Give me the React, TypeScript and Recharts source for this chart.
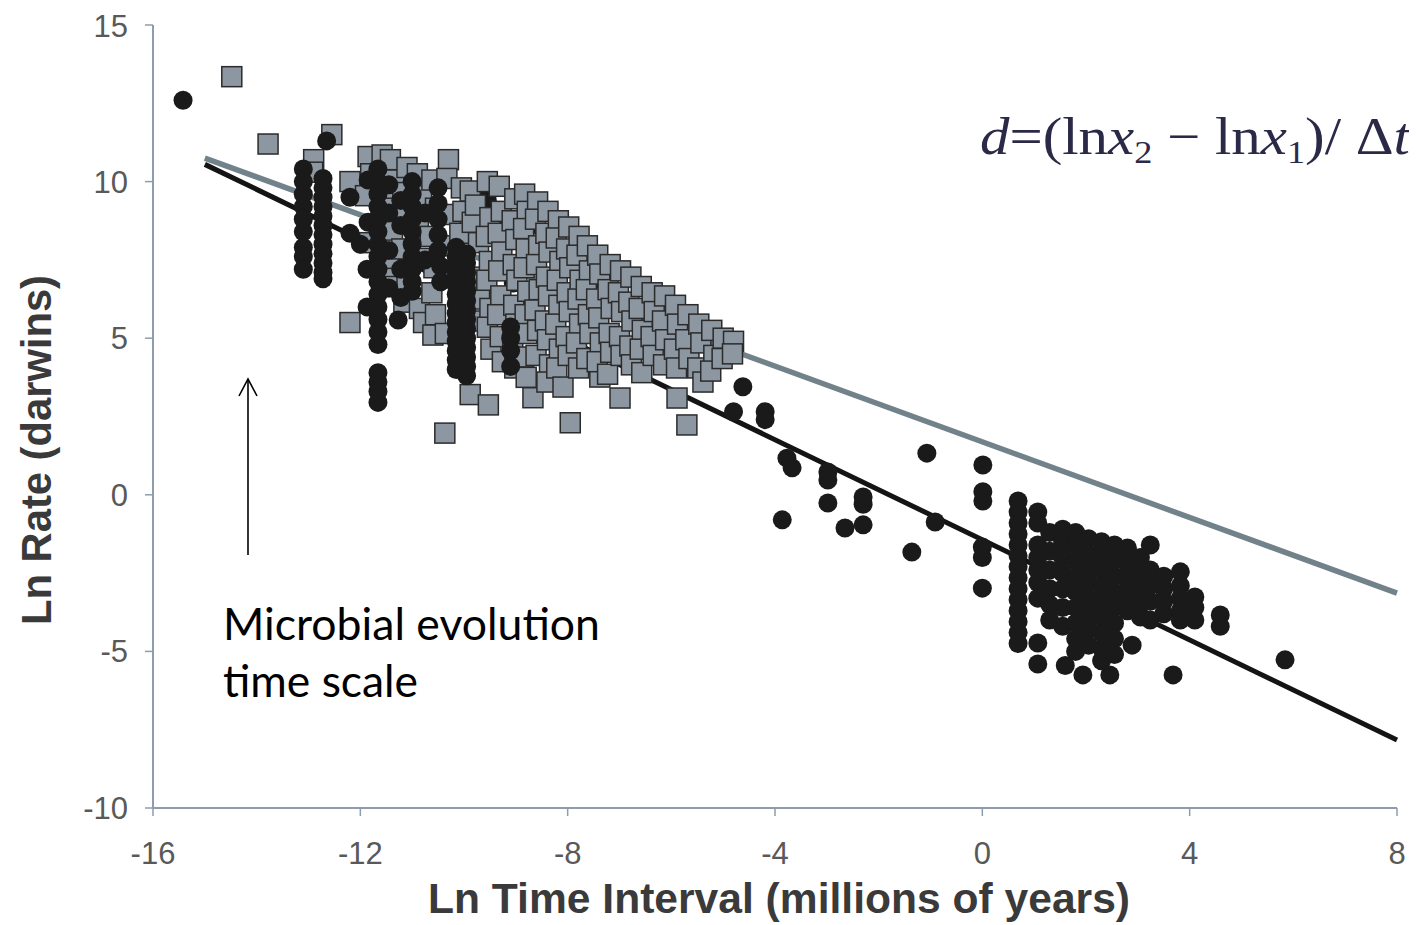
import React from 'react';
import { ScatterChart, Scatter, XAxis, YAxis } from 'recharts';

// Ln time interval (x) vs Ln rate (y)
const xTicks = [-16, -12, -8, -4, 0, 4, 8];
const yTicks = [-10, -5, 0, 5, 10, 15];

// fitted lines (endpoints)
const grayFit: [number, number][] = [[-15, 10.75], [8, -3.14]];
const blackFit: [number, number][] = [[-15, 10.55], [8, -7.83]];

// black dots partly hidden behind the squares
const dotsBack: [number, number][] = [
  [-9.55, 9.4], [-9.3, 8.45], [-9.05, 7.27], [-9.05, 6.76], [-8.97, 7.2], [-8.6, 8.6],
  [-8.3, 8.0], [-7.8, 7.3], [-7.4, 6.9], [-7.0, 6.3], [-6.6, 5.9], [-6.2, 5.2],
  [-9.75, 9.5], [-9.6, 9.0], [-9.4, 8.3], [-9.1, 5.8], [-8.8, 6.2],
];

// gray squares
const squares: [number, number][] = [
  [-14.48, 13.35], [-13.78, 11.2], [-12.55, 11.5], [-12.9, 10.7], [-12.92, 10.3],
  [-12.2, 10.0], [-12.2, 5.5],
  [-11.85, 10.8], [-11.8, 10.25], [-11.9, 9.55], [-11.82, 8.05],
  [-11.58, 10.85], [-11.63, 10.15], [-11.55, 9.45], [-11.6, 8.75], [-11.52, 7.05],
  [-11.42, 10.7], [-11.35, 10.05], [-11.44, 9.15], [-11.38, 8.45], [-11.46, 7.55], [-11.35, 6.65],
  [-11.1, 10.45], [-11.18, 9.65], [-11.12, 8.95], [-11.2, 7.85], [-11.1, 6.75], [-11.16, 6.15],
  [-10.9, 10.25], [-10.82, 9.55], [-10.88, 8.65], [-10.8, 7.55], [-10.86, 5.95], [-10.78, 5.5],
  [-10.62, 10.05], [-10.55, 9.15], [-10.65, 8.25], [-10.58, 7.25], [-10.62, 6.45], [-10.55, 5.75], [-10.6, 5.1],
  [-10.3, 10.7], [-10.33, 10.1], [-10.26, 8.95], [-10.34, 7.95], [-10.28, 7.05], [-10.36, 5.15],
  [-10.37, 1.97],
  [-10.05, 9.8], [-10.02, 9.05], [-10.08, 8.35], [-10.0, 6.6], [-10.04, 5.45], [-10.06, 4.6],
  [-9.88, 9.7], [-9.84, 8.7], [-9.88, 3.2],
  [-9.78, 9.25], [-9.72, 8.05], [-9.76, 6.95], [-9.7, 6.25], [-9.74, 5.55],
  [-9.55, 10.0], [-9.5, 8.85], [-9.57, 8.25], [-9.51, 7.45], [-9.56, 6.85], [-9.5, 5.95], [-9.55, 5.35], [-9.48, 4.65],
  [-9.53, 2.87],
  [-9.32, 9.85], [-9.28, 9.05], [-9.34, 8.35], [-9.27, 7.75], [-9.33, 7.15], [-9.29, 6.35], [-9.35, 5.75], [-9.3, 5.05], [-9.26, 4.25],
  [-9.02, 9.45], [-9.07, 8.75], [-9.0, 8.15], [-9.05, 7.35], [-8.98, 6.85], [-9.04, 6.05], [-9.0, 5.45], [-9.06, 4.85], [-9.02, 4.05],
  [-8.83, 9.6], [-8.78, 9.05], [-8.85, 8.5], [-8.8, 7.85], [-8.84, 7.25], [-8.77, 6.5], [-8.82, 5.75], [-8.79, 5.15], [-8.85, 4.4], [-8.8, 3.75],
  [-8.58, 9.35], [-8.62, 8.8], [-8.56, 7.95], [-8.6, 7.35], [-8.55, 6.55], [-8.63, 5.9], [-8.58, 5.25], [-8.61, 4.45],
  [-8.67, 3.1],
  [-8.38, 9.05], [-8.42, 8.35], [-8.36, 7.75], [-8.41, 6.95], [-8.37, 6.35], [-8.43, 5.55], [-8.39, 4.95], [-8.35, 4.15], [-8.4, 3.6],
  [-8.18, 8.75], [-8.22, 8.2], [-8.15, 7.45], [-8.2, 6.85], [-8.17, 6.05], [-8.23, 5.45], [-8.16, 4.65], [-8.21, 4.05],
  [-7.98, 8.55], [-8.02, 7.85], [-7.96, 7.25], [-8.01, 6.45], [-7.97, 5.85], [-8.03, 5.05], [-7.99, 4.45],
  [-8.09, 3.44], [-7.95, 2.3],
  [-7.78, 8.25], [-7.82, 7.65], [-7.76, 6.85], [-7.8, 6.25], [-7.77, 5.45], [-7.83, 4.85], [-7.79, 4.05],
  [-7.62, 7.95], [-7.58, 7.15], [-7.64, 6.55], [-7.6, 5.75], [-7.57, 5.15], [-7.63, 4.35],
  [-7.38, 3.76],
  [-7.42, 7.65], [-7.38, 7.05], [-7.44, 6.25], [-7.4, 5.65], [-7.37, 4.85], [-7.43, 4.25],
  [-7.18, 7.35], [-7.22, 6.55], [-7.16, 5.95], [-7.2, 5.15], [-7.17, 4.55], [-7.23, 3.85],
  [-6.98, 7.15], [-7.02, 6.45], [-6.96, 5.85], [-7.0, 5.05], [-6.97, 4.45],
  [-6.99, 3.09],
  [-6.78, 6.95], [-6.82, 6.15], [-6.76, 5.55], [-6.8, 4.75], [-6.77, 4.15],
  [-6.58, 6.65], [-6.62, 5.95], [-6.56, 5.25], [-6.6, 4.65], [-6.57, 3.9],
  [-6.37, 6.45], [-6.33, 5.85], [-6.39, 5.05], [-6.35, 4.45],
  [-6.13, 6.35], [-6.17, 5.55], [-6.11, 4.95], [-6.15, 4.15],
  [-5.92, 6.05], [-5.88, 5.45], [-5.94, 4.65], [-5.9, 4.05], [-5.89, 3.09],
  [-5.68, 5.75], [-5.72, 4.95], [-5.66, 4.35], [-5.7, 2.23],
  [-5.47, 5.45], [-5.43, 4.85], [-5.49, 4.05], [-5.39, 3.6],
  [-5.22, 5.25], [-5.18, 4.45], [-5.24, 3.95],
  [-5.0, 5.0], [-5.02, 4.35], [-4.8, 4.9], [-4.82, 4.5],
];

// black dots in front
const dots: [number, number][] = [
  [-15.42, 12.6], [-12.65, 11.3],
  [-13.1, 10.4], [-13.1, 10.0], [-13.1, 9.6], [-13.1, 9.2], [-13.1, 8.8], [-13.1, 8.4], [-13.1, 7.9], [-13.1, 7.6], [-13.1, 7.2],
  [-12.72, 10.1], [-12.72, 9.8], [-12.72, 9.5], [-12.72, 9.2], [-12.72, 8.9], [-12.72, 8.6], [-12.72, 8.3], [-12.72, 8.0],
  [-12.72, 7.7], [-12.72, 7.4], [-12.72, 7.1], [-12.72, 6.9],
  [-12.2, 9.5], [-12.2, 8.35], [-12.0, 8.0], [-11.85, 10.05], [-11.85, 8.7], [-11.87, 7.2], [-11.87, 6.0], [-11.27, 5.58],
  [-11.66, 10.4], [-11.66, 10.0], [-11.66, 9.6], [-11.66, 9.2], [-11.66, 8.8], [-11.66, 8.4], [-11.66, 8.0], [-11.66, 7.6],
  [-11.66, 7.2], [-11.66, 6.8], [-11.66, 6.4], [-11.66, 6.0], [-11.66, 5.6], [-11.66, 5.2], [-11.66, 4.8],
  [-11.66, 3.9], [-11.66, 3.6], [-11.66, 3.3], [-11.66, 2.95],
  [-11.45, 9.9], [-11.45, 9.0], [-11.45, 7.8], [-11.45, 6.6],
  [-11.22, 9.4], [-11.22, 8.6], [-11.22, 7.2], [-11.22, 6.3],
  [-11.0, 10.0], [-11.0, 9.6], [-11.0, 9.2], [-11.0, 8.8], [-11.0, 8.4], [-11.0, 8.0], [-11.0, 7.6], [-11.0, 7.2], [-11.0, 6.8], [-11.0, 6.5],
  [-10.75, 9.0], [-10.75, 7.5],
  [-10.5, 9.8], [-10.5, 9.3], [-10.5, 8.8], [-10.5, 8.3], [-10.5, 7.8], [-10.45, 7.3], [-10.45, 6.8],
  [-10.15, 7.9], [-10.15, 7.6], [-10.15, 7.3], [-10.15, 7.0], [-10.15, 6.7], [-10.15, 6.4], [-10.15, 6.1],
  [-10.15, 5.8], [-10.15, 5.5], [-10.15, 5.2], [-10.15, 4.9], [-10.15, 4.6], [-10.15, 4.3], [-10.15, 4.0],
  [-9.95, 7.7], [-9.95, 7.4], [-9.95, 7.1], [-9.95, 6.8], [-9.95, 6.5], [-9.95, 6.2], [-9.95, 5.9],
  [-9.95, 5.6], [-9.95, 5.3], [-9.95, 5.0], [-9.95, 4.7], [-9.95, 4.4], [-9.95, 4.1], [-9.95, 3.8],
  [-9.1, 5.36], [-9.1, 5.0], [-9.1, 4.6], [-9.1, 4.1],
  [-4.62, 3.45], [-4.8, 2.65], [-4.19, 2.65], [-4.19, 2.4], [-3.77, 1.17], [-3.67, 0.86],
  [-2.98, 0.73], [-2.98, 0.47], [-2.98, -0.26], [-3.86, -0.8], [-2.65, -1.06], [-2.3, -0.96],
  [-2.3, -0.07], [-2.3, -0.3], [-1.36, -1.83], [-1.07, 1.33], [-0.91, -0.87],
  [0.01, 0.95], [0.01, 0.1], [0.01, -0.2], [0.0, -1.67], [0.0, -2.0], [0.0, -2.98],
  [0.69, -0.2], [0.69, -0.55], [0.69, -0.9], [0.69, -1.25], [0.69, -1.6], [0.69, -1.95], [0.69, -2.3],
  [0.69, -2.65], [0.69, -3.0], [0.69, -3.35], [0.69, -3.7], [0.69, -4.05], [0.69, -4.4], [0.69, -4.75],
  [1.07, -0.55], [1.07, -0.9], [1.07, -1.6], [1.07, -2.0], [1.07, -2.4], [1.07, -2.8], [1.07, -3.3], [1.07, -4.73], [1.07, -5.4],
  [1.6, -5.45], [1.94, -5.75], [2.46, -5.75], [2.89, -4.8], [3.68, -5.75],
  [1.3, -1.2], [1.3, -1.8], [1.3, -2.4], [1.3, -3.0], [1.3, -3.5], [1.3, -4.0],
  [1.55, -1.1], [1.55, -1.5], [1.55, -2.0], [1.55, -2.5], [1.55, -3.0], [1.55, -3.6], [1.55, -4.2],
  [1.8, -1.2], [1.8, -1.6], [1.8, -2.1], [1.8, -2.6], [1.8, -3.1], [1.8, -3.6], [1.8, -4.1], [1.8, -4.6], [1.8, -5.0],
  [2.05, -1.4], [2.05, -1.9], [2.05, -2.3], [2.05, -2.8], [2.05, -3.3], [2.05, -3.8], [2.05, -4.3], [2.05, -4.8],
  [2.3, -1.5], [2.3, -1.9], [2.3, -2.4], [2.3, -2.9], [2.3, -3.4], [2.3, -3.9], [2.3, -4.4], [2.3, -4.9], [2.3, -5.3],
  [2.55, -1.6], [2.55, -2.1], [2.55, -2.6], [2.55, -3.1], [2.55, -3.6], [2.55, -4.1], [2.55, -4.6], [2.55, -5.1],
  [2.8, -1.7], [2.8, -2.2], [2.8, -2.7], [2.8, -3.2], [2.8, -3.7],
  [3.05, -2.0], [3.05, -2.5], [3.05, -3.0], [3.05, -3.5], [3.05, -3.9],
  [3.24, -1.6], [3.24, -2.4], [3.24, -2.9], [3.24, -3.4], [3.24, -4.0],
  [3.5, -2.6], [3.5, -3.0], [3.5, -3.4], [3.5, -3.8],
  [3.82, -2.46], [3.82, -2.9], [3.82, -3.3], [3.82, -3.7], [3.82, -4.0],
  [4.1, -3.26], [4.1, -3.6], [4.1, -4.0], [4.59, -3.84], [4.59, -4.2], [5.84, -5.27],
];

const toRows = (pts: [number, number][]) => pts.map(([x, y]) => ({ x, y }));

const axisColor = '#8d9dad';
const tickStyle = { fill: '#595959', fontSize: 31, fontFamily: 'Liberation Sans, Arial, sans-serif' };

const Dot = (p: any) => <circle cx={p.cx} cy={p.cy} r={9.5} fill="#1a1a1a" />;
const Square = (p: any) => (
  <rect x={p.cx - 10} y={p.cy - 10} width={20} height={20} fill="#8c97a2" stroke="#2b2b2b" strokeWidth={1.5} />
);
const NoShape = () => <g />;

export default function App() {
  return (
    <div style={{ position: 'relative', width: 1409, height: 917 }}>
      <ScatterChart width={1409} height={917} margin={{ top: 17, right: 20, bottom: 0, left: 0 }}>
        <XAxis
          type="number"
          dataKey="x"
          domain={[-16, 8]}
          ticks={xTicks}
          height={117}
          axisLine={{ stroke: axisColor, strokeWidth: 2 }}
          tickLine={{ stroke: axisColor, strokeWidth: 1.5 }}
          tickSize={8}
          tickMargin={26}
          tick={tickStyle}
        />
        <YAxis
          type="number"
          dataKey="y"
          domain={[-10, 15]}
          ticks={yTicks}
          width={145}
          axisLine={{ stroke: axisColor, strokeWidth: 2 }}
          tickLine={{ stroke: axisColor, strokeWidth: 1.5 }}
          tickSize={8}
          tickMargin={17}
          tick={tickStyle}
        />
        <Scatter data={toRows(grayFit)} line={{ stroke: '#72828b', strokeWidth: 5.5 }} shape={NoShape} isAnimationActive={false} />
        <Scatter data={toRows(blackFit)} line={{ stroke: '#141414', strokeWidth: 5 }} shape={NoShape} isAnimationActive={false} />
        <Scatter data={toRows(dotsBack)} shape={Dot} isAnimationActive={false} />
        <Scatter data={toRows(squares)} shape={Square} isAnimationActive={false} />
        <Scatter data={toRows(dots)} shape={Dot} isAnimationActive={false} />
      </ScatterChart>
      <svg width={1409} height={917} style={{ position: 'absolute', left: 0, top: 0, pointerEvents: 'none' }}>
        <text
          x={771}
          y={905}
          textAnchor="middle"
          textLength={702}
          lengthAdjust="spacingAndGlyphs"
          fontFamily="Liberation Sans, Arial, sans-serif"
          fontWeight="bold"
          fontSize={42}
          fill="#3a3a3a"
        >
          Ln Time Interval (millions of years)
        </text>
        <text
          transform="translate(43, 442) rotate(-90)"
          textAnchor="middle"
          textLength={350}
          lengthAdjust="spacingAndGlyphs"
          fontFamily="Liberation Sans, Arial, sans-serif"
          fontWeight="bold"
          fontSize={42}
          fill="#3a3a3a"
        >
          Ln Rate (darwins)
        </text>
        <text
          x={972}
          y={146}
          textLength={430}
          lengthAdjust="spacingAndGlyphs"
          fontFamily="Liberation Serif, Times New Roman, serif"
          fontSize={52}
          fill="#2a2a48"
        >
          <tspan fontStyle="italic">d</tspan>
          <tspan>=(ln</tspan>
          <tspan fontStyle="italic">x</tspan>
          <tspan fontSize={32} dy={9}>2</tspan>
          <tspan dy={-9}> − ln</tspan>
          <tspan fontStyle="italic">x</tspan>
          <tspan fontSize={32} dy={9}>1</tspan>
          <tspan dy={-9}>)/ Δ</tspan>
          <tspan fontStyle="italic">t</tspan>
        </text>
        <line x1={240} y1={547} x2={240} y2={371} stroke="#000" strokeWidth={1.6} />
        <polyline points="231,388 240,371 249,388" fill="none" stroke="#000" strokeWidth={1.6} />
        <text x={215} y={632} fontFamily="Lato, Open Sans, sans-serif" fontSize={44} fill="#000" textLength={377} lengthAdjust="spacingAndGlyphs">
          Microbial evolution
        </text>
        <text x={215} y={689} fontFamily="Lato, Open Sans, sans-serif" fontSize={44} fill="#000" textLength={195} lengthAdjust="spacingAndGlyphs">
          time scale
        </text>
      </svg>
    </div>
  );
}
